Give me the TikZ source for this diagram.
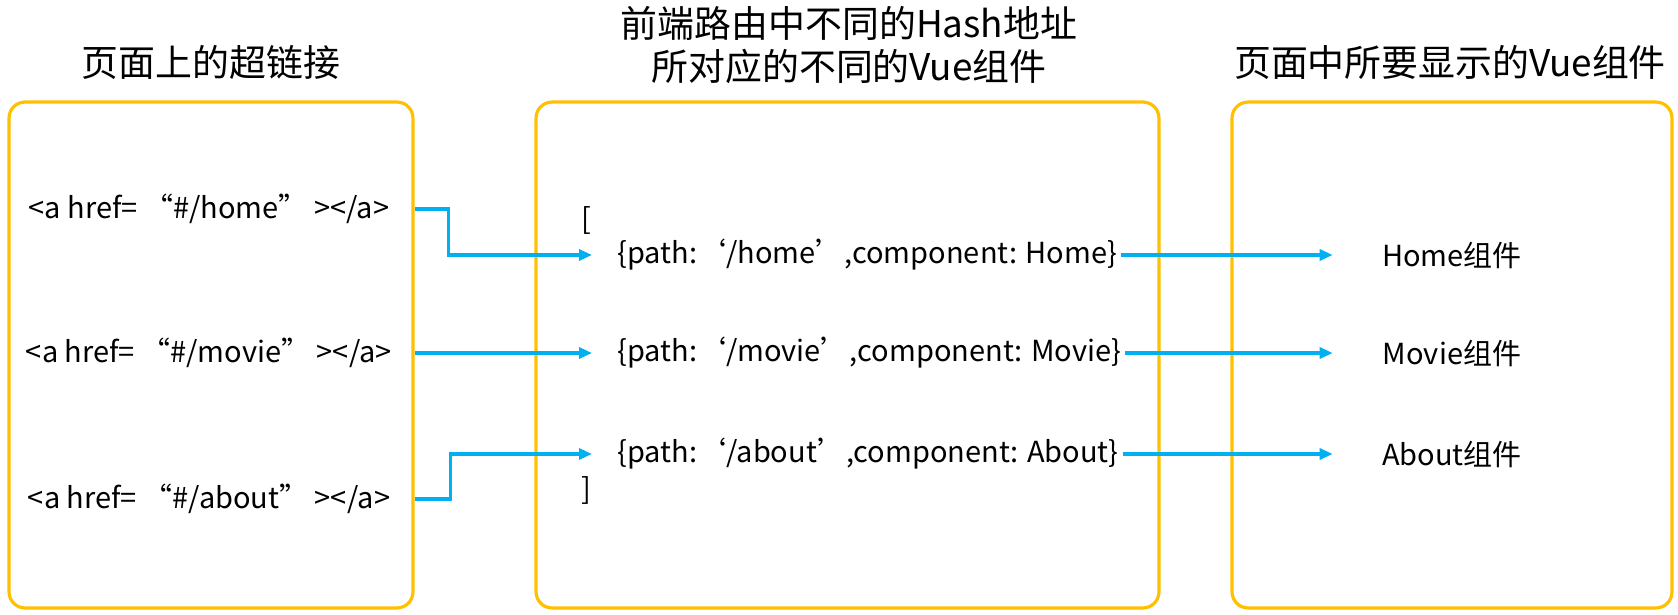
\documentclass[tikz,border=0pt]{standalone}
\usepackage{fontspec}
\setmainfont{Noto Sans CJK SC}
\usepackage{xcolor}
\definecolor{panelgold}{HTML}{FFC000}
\definecolor{linkblue}{HTML}{00B0F0}
\usepackage{tikz}
\usetikzlibrary{arrows.meta, positioning, calc}
\tikzset{
  pbox/.style ={rectangle, rounded corners=0.32cm, draw=panelgold, line width=1.8pt},
  ptitle/.style={font=\fontsize{21}{24}\selectfont, text=black, align=center, inner sep=0pt},
  ptext/.style ={font=\fontsize{16.5}{19}\selectfont, text=black, inner sep=0pt},
  parr/.style  ={-{Triangle[length=0.26cm, width=0.22cm]}, line width=1.8pt, color=linkblue},
}

\begin{document}
\begin{tikzpicture}[x=0.02cm, y=-0.02cm]
  \useasboundingbox (0,0) rectangle (1678,615);
  \node[pbox, minimum width=8.08cm, minimum height=10.12cm] (box1) at (211,355) {};
  \node[pbox, minimum width=12.46cm, minimum height=10.12cm] (box2) at (847.5,355) {};
  \node[pbox, minimum width=8.8cm, minimum height=10.12cm] (box3) at (1452,355) {};
  \node[ptitle] (ttl1) at (211,62) {页面上的超链接};
  \node[ptitle] (ttl2) at (849,45) {前端路由中不同的Hash地址\\所对应的不同的Vue组件};
  \node[ptitle] (ttl3) at (1450,62) {页面中所要显示的Vue组件};
  \foreach \i/\y/\lnk in {1/209/home, 2/353/movie, 3/499/about}
    \node[ptext] (lnk\i) at (209,\y) {<a href= “\#/\lnk” ></a>};
  \node[ptext, anchor=west] (lbrk) at (581,220) {[};
  \node[ptext, anchor=west] (rbrk) at (581,490) {]};
  \foreach \i/\y/\pth/\cname in {1/255/home/Home, 2/353/movie/Movie, 3/454/about/About}
    \node[ptext, anchor=west] (rt\i) at (617,\y) {\{path:‘/\pth’,component: \cname\}};
  \foreach \i/\y/\cname in {1/255/Home, 2/353/Movie, 3/454/About}
    \node[ptext, minimum width=4.76cm] (cmp\i) at (1452,\y) {\cname 组件};
  \draw[parr, shorten >=0.5cm] (lnk1.east -| box1.east) -- ++(34,0) |- (rt1.west);
  \draw[parr, shorten >=0.5cm] (lnk2.east -| box1.east) -- (rt2.west);
  \draw[parr, shorten >=0.5cm] (lnk3.east -| box1.east) -- ++(36,0) |- (rt3.west);
  \foreach \i in {1,2,3} \draw[parr] ([xshift=2pt]rt\i.east) -- (cmp\i.west);
\end{tikzpicture}
\end{document}
